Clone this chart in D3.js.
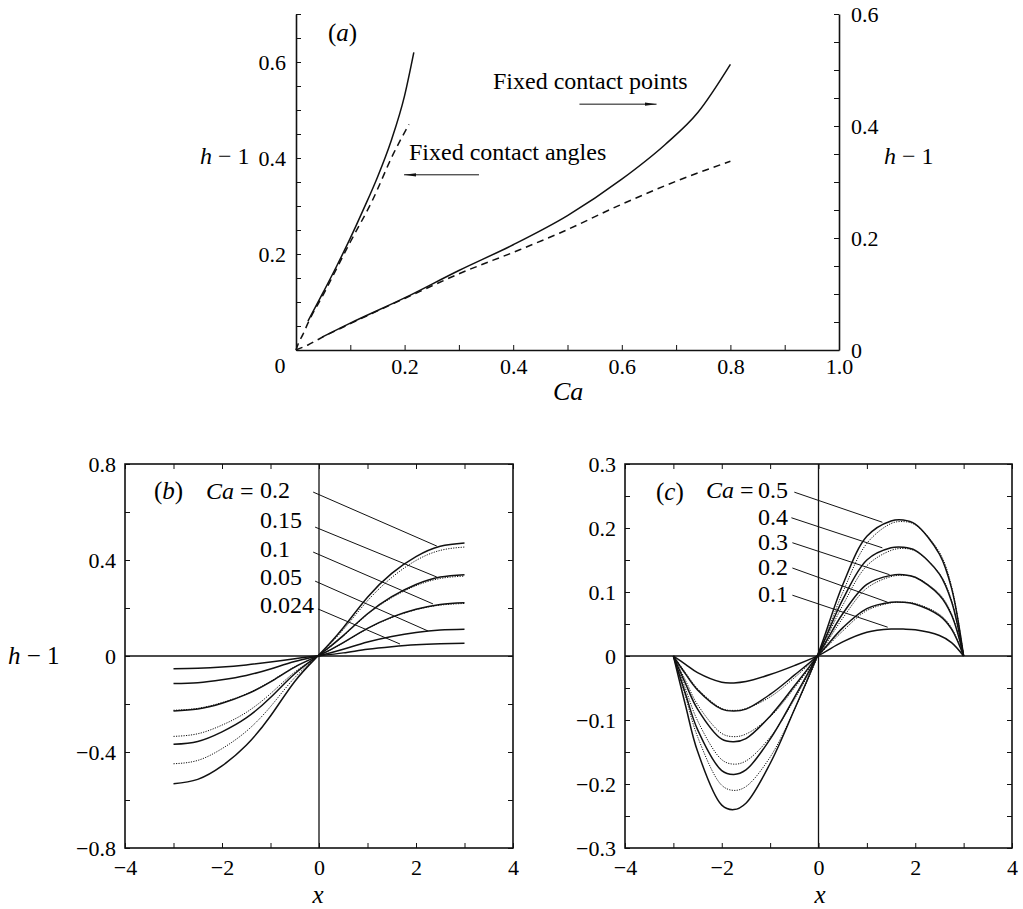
<!DOCTYPE html>
<html lang="en">
<head>
<meta charset="UTF-8">
<title>h - 1 against Ca, and free-surface profiles</title>
<script src="https://cdn.jsdelivr.net/npm/d3@7"></script>
<style>
  body { margin: 0; background: #fff; }
  svg { display: block; font-family: "Liberation Serif", "Times New Roman", serif; }
  .tick line { stroke: #111; stroke-width: 1; }
  .domain { stroke: #111; stroke-width: 1.6; }
  .curve { fill: none; stroke: #111; stroke-width: 1.5; }
  .dash { stroke-dasharray: 7,5; }
  .dot { stroke-width: 1; stroke-dasharray: 1.2,1.3; }
  .lead { stroke: #111; stroke-width: 1; }
  .frame { fill: none; stroke: #111; stroke-width: 1.6; }
  .zero { stroke: #111; stroke-width: 1.3; }
  .note { font-size: 23px; fill: #000; }
  .it { font-style: italic; }
</style>
</head>
<body>
<svg id="chart" width="1023" height="909"></svg>
<script>
  // (a) h-1 vs Ca ; steep pair on left axis, shallow pair on right axis
  const angleSolidCa = [0.022, 0.05, 0.075, 0.1, 0.125, 0.15, 0.175, 0.2, 0.217];
  const angleSolidH  = [0.06, 0.12, 0.175, 0.233, 0.295, 0.36, 0.435, 0.53, 0.62];
  const angleDashCa  = [0, 0.004, 0.013, 0.022, 0.05, 0.1, 0.14, 0.179, 0.208];
  const angleDashH   = [0, 0.0125, 0.033, 0.056, 0.115, 0.225, 0.31, 0.408, 0.47];
  const pointSolidCa = [0.048, 0.1, 0.2, 0.3, 0.4, 0.5, 0.6, 0.68, 0.74, 0.8];
  const pointSolidH  = [0.023, 0.048, 0.093, 0.142, 0.188, 0.24, 0.305, 0.367, 0.424, 0.51];
  const pointDashCa  = [0, 0.022, 0.045, 0.1, 0.2, 0.3, 0.412, 0.486, 0.597, 0.707, 0.8];
  const pointDashH   = [0, 0.009, 0.021, 0.047, 0.092, 0.136, 0.179, 0.209, 0.259, 0.304, 0.337];

  // (b) profiles, fixed contact angles
  const caB = ['0.2', '0.15', '0.1', '0.05', '0.024'];
  const xB = [-3, -2.5, -2, -1.5, -1, -0.5, 0, 0.5, 1, 1.5, 2, 2.5, 3];
  const bSolid = [
    [-0.532, -0.514, -0.458, -0.372, -0.250, -0.106, 0.005, 0.118, 0.245, 0.344, 0.414, 0.457, 0.471],
    [-0.368, -0.356, -0.316, -0.258, -0.173, -0.074, 0.004, 0.085, 0.176, 0.247, 0.298, 0.329, 0.339],
    [-0.229, -0.221, -0.197, -0.160, -0.108, -0.046, 0.002, 0.056, 0.115, 0.162, 0.195, 0.215, 0.222],
    [-0.115, -0.111, -0.099, -0.081, -0.054, -0.023, 0.001, 0.028, 0.058, 0.081, 0.098, 0.108, 0.111],
    [-0.053, -0.051, -0.046, -0.037, -0.025, -0.011, 0.001, 0.013, 0.028, 0.039, 0.047, 0.051, 0.053]
  ];
  const bDotted = [
    [-0.449, -0.435, -0.386, -0.314, -0.211, -0.090, 0.004, 0.110, 0.230, 0.327, 0.398, 0.440, 0.454],
    [-0.335, -0.324, -0.288, -0.235, -0.157, -0.067, 0.003, 0.083, 0.173, 0.243, 0.293, 0.323, 0.333],
    [-0.226, -0.218, -0.194, -0.158, -0.106, -0.045, 0.002, 0.055, 0.114, 0.160, 0.193, 0.212, 0.219]
  ];

  // (c) profiles, fixed contact points
  const caC = ['0.5', '0.4', '0.3', '0.2', '0.1'];
  const xC = [-3, -2.75, -2.5, -2, -1.75, -1.5, -1, -0.5, 0, 0.5, 1, 1.5, 1.75, 2, 2.5, 2.75, 3];
  const cSolid = [
    [0, -0.077, -0.149, -0.233, -0.240, -0.230, -0.168, -0.084, 0.005, 0.111, 0.187, 0.211, 0.2125, 0.206, 0.159, 0.106, 0],
    [0, -0.059, -0.115, -0.179, -0.185, -0.178, -0.130, -0.065, 0.004, 0.088, 0.150, 0.169, 0.170, 0.165, 0.128, 0.085, 0],
    [0, -0.043, -0.083, -0.130, -0.134, -0.129, -0.094, -0.047, 0.003, 0.066, 0.112, 0.126, 0.127, 0.123, 0.095, 0.064, 0],
    [0, -0.028, -0.053, -0.083, -0.086, -0.083, -0.060, -0.030, 0.002, 0.044, 0.074, 0.084, 0.084, 0.081, 0.063, 0.042, 0],
    [0, -0.013, -0.026, -0.041, -0.042, -0.040, -0.029, -0.015, 0.001, 0.022, 0.037, 0.042, 0.042, 0.041, 0.032, 0.021, 0]
  ];
  const cDotted = [
    [0, -0.063, -0.126, -0.202, -0.210, -0.204, -0.158, -0.084, 0.002, 0.099, 0.176, 0.207, 0.210, 0.205, 0.162, 0.109, 0],
    [0, -0.051, -0.101, -0.162, -0.169, -0.164, -0.127, -0.068, 0.002, 0.079, 0.141, 0.165, 0.168, 0.164, 0.129, 0.087, 0],
    [0, -0.038, -0.076, -0.121, -0.126, -0.122, -0.095, -0.050, 0.001, 0.059, 0.106, 0.124, 0.126, 0.123, 0.097, 0.066, 0],
    [0, -0.026, -0.051, -0.082, -0.085, -0.082, -0.064, -0.034, 0.001, 0.039, 0.071, 0.083, 0.084, 0.082, 0.065, 0.044, 0]
  ];

  // tick labels
  const aXLabels = [0.2, 0.4, 0.6, 0.8, 1.0];
  const aLeftLabels = [0.2, 0.4, 0.6];
  const aRightLabels = [0, 0.2, 0.4, 0.6];
  const bXLabels = [-4, -2, 0, 2, 4];
  const bYLabels = [-0.8, -0.4, 0, 0.4, 0.8];
  const cXLabels = [-4, -2, 0, 2, 4];
  const cYLabels = [-0.3, -0.2, -0.1, 0, 0.1, 0.2, 0.3];

  // leader lines [x0, y0, x1, y1] in data units
  const bLeaders = [[-0.12, 0.683, 2.43, 0.458], [-0.08, 0.537, 2.43, 0.329], [-0.12, 0.433, 2.35, 0.217],
                    [-0.08, 0.312, 2.25, 0.104], [-0.02, 0.196, 1.67, 0.05]];
  const cLeaders = [[-0.50, 0.256, 1.32, 0.209], [-0.56, 0.216, 1.32, 0.169], [-0.54, 0.177, 1.47, 0.127],
                    [-0.54, 0.1375, 1.43, 0.084], [-0.54, 0.095, 1.43, 0.045]];

  const svg = d3.select('#chart');
  const has = (list, d) => list.some(v => Math.abs(v - d) < 1e-6);
  const fmt = d => Math.abs(d) < 1e-9 ? '0' : (Number.isInteger(Math.round(d * 1e6) / 1e6) ? d3.format('d')(Math.round(d)) : d3.format('.1f')(d));
  // d3 axis puts sans-serif 10px on its group; put the serif face right on the labels
  const serif = g => {
    g.attr('font-family', null).attr('font-size', null);
    g.selectAll('.tick text')
      .style('font-family', '"Liberation Serif", "Times New Roman", serif')
      .style('font-size', '22px')
      .attr('fill', '#000');
  };

  // arrow head
  svg.append('defs').append('marker')
      .attr('id', 'head')
      .attr('viewBox', '0 0 12 4')
      .attr('refX', 12).attr('refY', 2)
      .attr('markerWidth', 12).attr('markerHeight', 4)
      .attr('markerUnits', 'userSpaceOnUse')
      .attr('orient', 'auto')
    .append('path').attr('d', 'M0,0.4L12,2L0,3.6Z').attr('fill', '#111');

  function note(x, y, parts, size, anchor) {
    const t = svg.append('text').attr('class', 'note')
      .attr('x', x).attr('y', y)
      .style('font-size', (size || 23) + 'px')
      .attr('text-anchor', anchor || 'start');
    parts.forEach(p => {
      t.append('tspan').attr('class', p[1] ? 'it' : null).text(p[0]);
    });
    return t;
  }

  // ---------------- panel (a)
  const xA = d3.scaleLinear().domain([0, 1]).range([296, 839]);
  const yAL = d3.scaleLinear().domain([0, 0.7]).range([350, 14]);
  const yAR = d3.scaleLinear().domain([0, 0.6]).range([350, 14]);

  svg.append('g').attr('transform', 'translate(0,350)')
    .call(d3.axisBottom(xA).tickValues(d3.range(0, 1.0001, 0.1)).tickSize(-5).tickSizeOuter(0).tickPadding(8)
      .tickFormat(d => has(aXLabels, d) ? d3.format('.1f')(d) : ''))
    .call(serif);
  svg.append('g').attr('transform', 'translate(296,0)')
    .call(d3.axisLeft(yAL).tickValues(d3.range(0, 0.7001, 0.05)).tickSize(-5).tickSizeOuter(0).tickPadding(10)
      .tickFormat(d => has(aLeftLabels, d) ? d3.format('.1f')(d) : ''))
    .call(serif);
  svg.append('g').attr('transform', 'translate(839,0)')
    .call(d3.axisRight(yAR).tickValues(d3.range(0, 0.6001, 0.05)).tickSize(-5).tickSizeOuter(0).tickPadding(12)
      .tickFormat(d => has(aRightLabels, d) ? fmt(d) : ''))
    .call(serif);

  const lineL = d3.line().x(d => xA(d[0])).y(d => yAL(d[1])).curve(d3.curveMonotoneX);
  const lineR = d3.line().x(d => xA(d[0])).y(d => yAR(d[1])).curve(d3.curveMonotoneX);
  svg.append('path').attr('class', 'curve').attr('d', lineL(d3.zip(angleSolidCa, angleSolidH)));
  svg.append('path').attr('class', 'curve dash').attr('d', lineL(d3.zip(angleDashCa, angleDashH)));
  svg.append('path').attr('class', 'curve').attr('d', lineR(d3.zip(pointSolidCa, pointSolidH)));
  svg.append('path').attr('class', 'curve dash').attr('d', lineR(d3.zip(pointDashCa, pointDashH)));

  note(328, 41, [['('], ['a', true], [')']], 25);
  note(493, 89, [['Fixed contact points']], 24);
  note(409, 160, [['Fixed contact angles']], 24);
  svg.append('line').attr('class', 'lead')
    .attr('x1', xA(0.522)).attr('y1', yAR(0.439)).attr('x2', xA(0.664)).attr('y2', yAR(0.439))
    .attr('marker-end', 'url(#head)');
  svg.append('line').attr('class', 'lead')
    .attr('x1', xA(0.337)).attr('y1', yAL(0.365)).attr('x2', xA(0.199)).attr('y2', yAL(0.365))
    .attr('marker-end', 'url(#head)');
  note(200, 164, [['h', true], [' − 1']], 24);
  note(884, 164, [['h', true], [' − 1']], 24);
  note(553, 400, [['Ca', true]], 26);
  note(280, 373, [['0']], 22, 'middle');

  // ---------------- panels (b) and (c)
  function profilePanel(x0, x1, yDom, yStep, yLabels, xLabels) {
    const x = d3.scaleLinear().domain([-4, 4]).range([x0, x1]);
    const y = d3.scaleLinear().domain(yDom).range([848, 464]);
    const g = svg.append('g');
    const xt = d3.range(-4, 4.001, 1);
    const yt = d3.range(yDom[0], yDom[1] + 1e-6, yStep);
    g.append('g').attr('transform', 'translate(0,848)')
      .call(d3.axisBottom(x).tickValues(xt).tickSize(-5).tickPadding(11)
        .tickFormat(d => has(xLabels, d) ? fmt(d) : ''))
      .call(serif);
    g.append('g').attr('transform', 'translate(0,464)')
      .call(d3.axisTop(x).tickValues(xt).tickSize(-5).tickFormat(''));
    g.append('g').attr('transform', `translate(${x0},0)`)
      .call(d3.axisLeft(y).tickValues(yt).tickSize(-5).tickPadding(9)
        .tickFormat(d => has(yLabels, d) ? fmt(d) : ''))
      .call(serif);
    g.append('g').attr('transform', `translate(${x1},0)`)
      .call(d3.axisRight(y).tickValues(yt).tickSize(-5).tickFormat(''));
    g.selectAll('.domain').remove();
    g.append('rect').attr('class', 'frame')
      .attr('x', x0).attr('y', 464).attr('width', x1 - x0).attr('height', 384);
    g.append('line').attr('class', 'zero')
      .attr('x1', x0).attr('x2', x1).attr('y1', y(0)).attr('y2', y(0));
    g.append('line').attr('class', 'zero')
      .attr('x1', x(0)).attr('x2', x(0)).attr('y1', 464).attr('y2', 848);
    return { g, x, y };
  }

  function drawProfiles(p, xs, solid, dotted, leaders, curve) {
    const line = d3.line().x(d => p.x(d[0])).y(d => p.y(d[1])).curve(curve);
    p.g.selectAll('path.sol').data(solid).join('path')
      .attr('class', 'curve sol').attr('d', s => line(d3.zip(xs, s)));
    p.g.selectAll('path.dtt').data(dotted).join('path')
      .attr('class', 'curve dot dtt').attr('d', s => line(d3.zip(xs, s)));
    p.g.selectAll('line.lead').data(leaders).join('line')
      .attr('class', 'lead')
      .attr('x1', d => p.x(d[0])).attr('y1', d => p.y(d[1]))
      .attr('x2', d => p.x(d[2])).attr('y2', d => p.y(d[3]));
  }

  const pb = profilePanel(125, 513, [-0.8, 0.8], 0.2, bYLabels, bXLabels);
  drawProfiles(pb, xB, bSolid, bDotted, bLeaders, d3.curveNatural);
  note(154, 499, [['('], ['b', true], [')']], 25);
  note(206, 499, [['Ca', true], [' =']], 24);
  [498, 528, 557, 585, 613].forEach((yy, i) => note(260, yy, [[caB[i]]], 24));
  note(8, 664, [['h', true], [' − 1']], 25);
  note(318, 903, [['x', true]], 25, 'middle');

  const pc = profilePanel(625, 1012, [-0.3, 0.3], 0.05, cYLabels, cXLabels);
  drawProfiles(pc, xC, cSolid, cDotted, cLeaders, d3.curveCatmullRom);
  note(656, 500, [['('], ['c', true], [')']], 25);
  note(706, 498, [['Ca', true], [' =']], 24);
  [498, 525, 550, 575, 602].forEach((yy, i) => note(758, yy, [[caC[i]]], 24));
  note(820, 903, [['x', true]], 25, 'middle');
</script>
</body>
</html>
